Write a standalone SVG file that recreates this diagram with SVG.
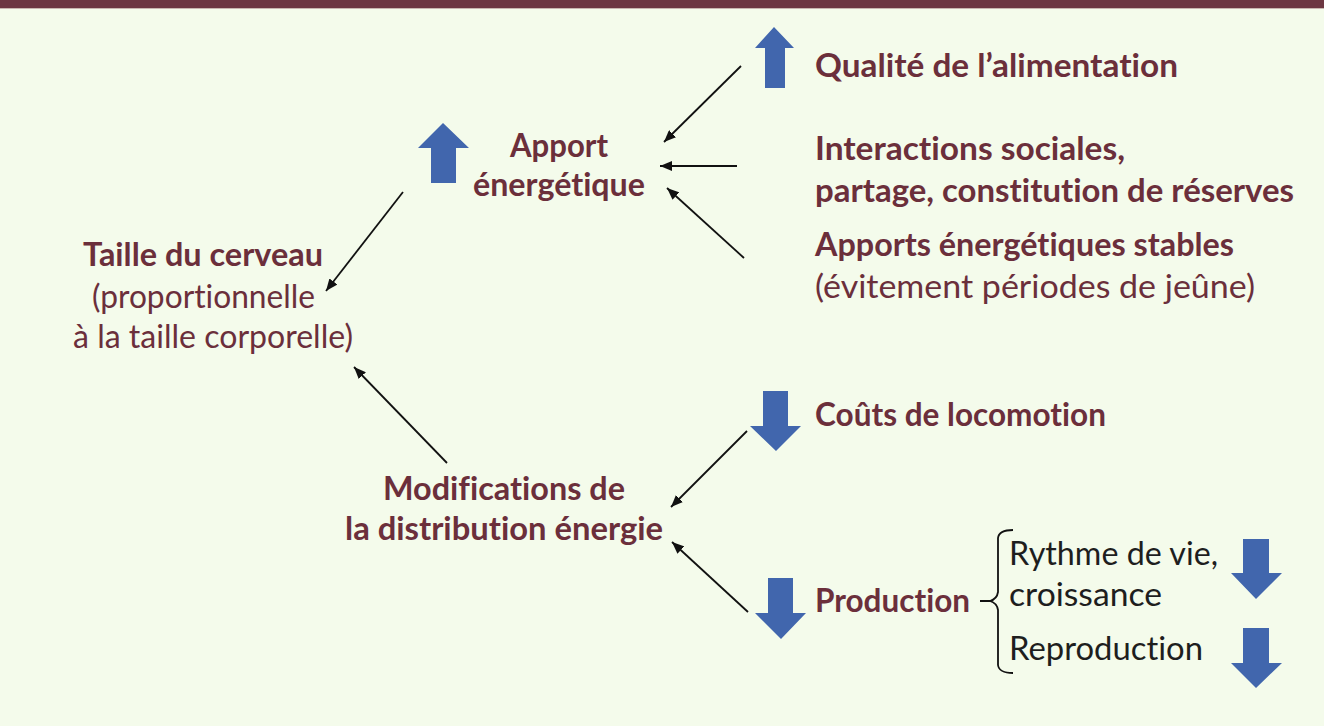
<svg xmlns="http://www.w3.org/2000/svg" width="1324" height="726" viewBox="0 0 1324 726">
<defs>
<style>
.b,.r,.k{font-family:Lato,"Open Sans","Liberation Sans",sans-serif;font-size:32px;font-variant-ligatures:none;font-feature-settings:"liga" 0,"clig" 0}
.b{font-weight:700;fill:#6b2f3b}
.r{font-weight:400;fill:#6b2f3b}
.k{font-weight:400;fill:#1e1e1e}
.blk{fill:#4166ad}
.con line{stroke:#111;stroke-width:1.8;fill:none}
</style>
<marker id="ah" viewBox="0 0 12 10" refX="12" refY="5" markerWidth="12" markerHeight="10" markerUnits="userSpaceOnUse" orient="auto">
<path d="M0,0 L12,5 L0,10 Z" fill="#111"/>
</marker>
</defs>
<rect x="0" y="0" width="1324" height="726" fill="#f4fbeb"/>
<rect x="0" y="0" width="1324" height="8" fill="#6d3742"/>
<rect x="0" y="8" width="1324" height="1" fill="#c9b7b0"/>

<g id="apport">
<polygon class="blk" points="443,123 469,148 456,148 456,183 431,183 431,148 418,148"/>
<text class="b" x="510" y="157" textLength="98" lengthAdjust="spacingAndGlyphs">Apport</text>
<text class="b" x="473" y="196" textLength="172" lengthAdjust="spacingAndGlyphs">énergétique</text>
</g>
<g id="qualite">
<polygon class="blk" points="774,27 794,48 785,48 785,88 765,88 765,48 755,48"/>
<text class="b" x="815" y="77" textLength="363" lengthAdjust="spacingAndGlyphs">Qualité de l’alimentation</text>
</g>
<g id="interactions">
<text class="b" x="815" y="160" textLength="310" lengthAdjust="spacingAndGlyphs">Interactions sociales,</text>
<text class="b" x="815" y="202" textLength="479" lengthAdjust="spacingAndGlyphs">partage, constitution de réserves</text>
</g>
<g id="stables">
<text class="b" x="815" y="256" textLength="419" lengthAdjust="spacingAndGlyphs">Apports énergétiques stables</text>
<text class="r" x="815" y="298" textLength="440" lengthAdjust="spacingAndGlyphs">(évitement périodes de jeûne)</text>
</g>
<g id="taille">
<text class="b" x="83" y="266" textLength="240" lengthAdjust="spacingAndGlyphs">Taille du cerveau</text>
<text class="r" x="92" y="308" textLength="223" lengthAdjust="spacingAndGlyphs">(proportionnelle</text>
<text class="r" x="73" y="348" textLength="280" lengthAdjust="spacingAndGlyphs">à la taille corporelle)</text>
</g>
<g id="modifications">
<text class="b" x="383" y="500" textLength="242" lengthAdjust="spacingAndGlyphs">Modifications de</text>
<text class="b" x="345" y="540" textLength="318" lengthAdjust="spacingAndGlyphs">la distribution énergie</text>
</g>
<g id="couts">
<polygon class="blk" points="763,391 788,391 788,426 801,426 776,451 750,426 763,426"/>
<text class="b" x="815" y="426" textLength="291" lengthAdjust="spacingAndGlyphs">Coûts de locomotion</text>
</g>
<g id="production">
<polygon class="blk" points="768,578 793,578 793,613 806,613 781,639 755,613 768,613"/>
<text class="b" x="815" y="612" textLength="155" lengthAdjust="spacingAndGlyphs">Production</text>
<path d="M1013,530 Q999,530 998,538 L998,592 Q997,599 990,601 L980,601 M990,601 Q997,603 998,610 L998,665 Q999,673 1013,673" fill="none" stroke="#111" stroke-width="1.8"/>
</g>
<g id="rythme">
<text class="k" x="1009" y="565" textLength="209" lengthAdjust="spacingAndGlyphs">Rythme de vie,</text>
<text class="k" x="1009" y="606" textLength="153" lengthAdjust="spacingAndGlyphs">croissance</text>
<polygon class="blk" points="1243,539 1269,539 1269,573 1282,573 1256,599 1231,573 1243,573"/>
</g>
<g id="reproduction">
<text class="k" x="1009" y="660" textLength="194" lengthAdjust="spacingAndGlyphs">Reproduction</text>
<polygon class="blk" points="1243,628 1269,628 1269,663 1282,663 1256,688 1231,663 1243,663"/>
</g>

<g id="connectors" class="con">
<line x1="741" y1="66" x2="664" y2="142" marker-end="url(#ah)"/>
<line x1="737" y1="166" x2="660" y2="166" marker-end="url(#ah)"/>
<line x1="744" y1="258" x2="667" y2="188" marker-end="url(#ah)"/>
<line x1="403" y1="192" x2="326" y2="291" marker-end="url(#ah)"/>
<line x1="447" y1="463" x2="354" y2="367" marker-end="url(#ah)"/>
<line x1="747" y1="431" x2="671" y2="507" marker-end="url(#ah)"/>
<line x1="748" y1="612" x2="672" y2="542" marker-end="url(#ah)"/>
</g>
</svg>
